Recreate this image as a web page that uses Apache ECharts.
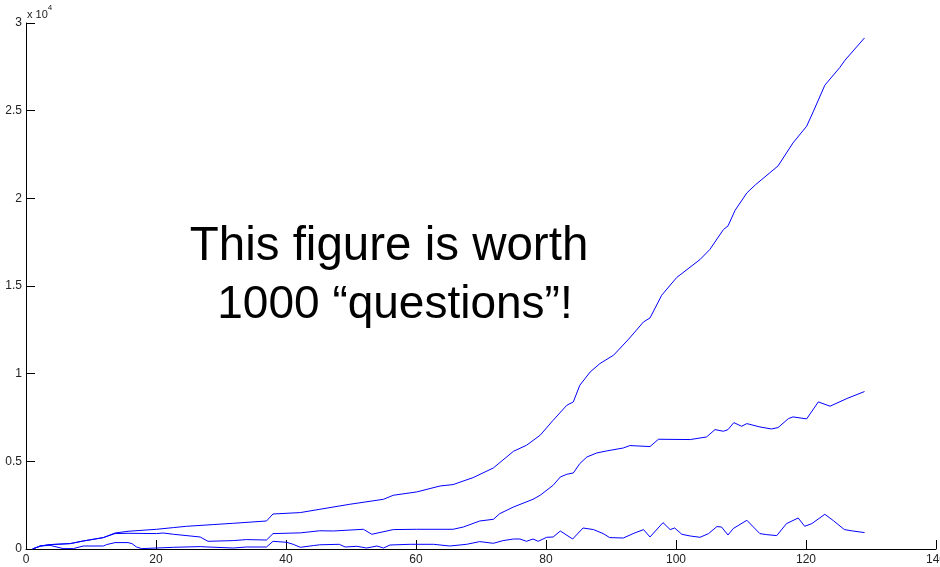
<!DOCTYPE html>
<html>
<head>
<meta charset="utf-8">
<script src="https://cdn.jsdelivr.net/npm/echarts@6/dist/echarts.min.js"></script>
<style>
  html, body { margin: 0; padding: 0; background: #fff; }
  #chart { width: 940px; height: 567px; }
</style>
</head>
<body>
<div id="chart"></div>
<script>
// values, [x, y]
const upperLine = [
  [1, 0], [2.2, 171], [3.7, 251], [6.8, 308], [8.8, 456], [11.9, 650], [13.7, 913], [15.7, 1010],
  [20.1, 1124], [22.7, 1221], [24.7, 1295], [28.8, 1392], [31.9, 1466], [37.0, 1597], [38.0, 1997],
  [42.2, 2077], [45.2, 2265], [49.8, 2550], [55.0, 2835], [56.5, 3064], [60.1, 3254], [63.7, 3594],
  [65.7, 3674], [68.8, 4073], [71.9, 4621], [75.0, 5574], [77.0, 5916], [79.1, 6487], [81.1, 7343],
  [83.2, 8198], [84.2, 8387], [85.2, 9339], [86.8, 10098], [88.3, 10577], [90.4, 11055], [92.7, 11963],
  [95.0, 12950], [96.0, 13178], [97.8, 14473], [100.1, 15483], [103.7, 16510], [105.2, 17080],
  [107.3, 18221], [108.0, 18426], [109.1, 19322], [110.9, 20309], [112.2, 20765], [115.7, 21849],
  [118.0, 23161], [120.1, 24114], [121.1, 24929], [122.9, 26453], [125.2, 27463], [126.0, 27879],
  [129, 29150]
];

const middleLine = [
  [1, 0], [2.2, 171], [3.7, 251], [6.8, 308], [8.8, 456], [11.9, 650], [13.7, 880], [15.7, 896],
  [20.1, 880], [21.1, 913], [22.7, 839], [26.8, 685], [28.0, 439], [31.9, 479], [33.9, 536],
  [37.0, 513], [38.0, 878], [42.2, 920], [45.2, 1040], [47.3, 1027], [51.9, 1124], [53.2, 839],
  [56.5, 1107], [60.1, 1124], [65.7, 1124], [67.3, 1255], [69.8, 1597], [71.9, 1694], [72.9, 2020],
  [75.0, 2396], [78.0, 2835], [79.1, 3064], [81.1, 3634], [82.2, 4108], [83.2, 4262], [84.2, 4336],
  [85.2, 4872], [86.3, 5249], [87.8, 5477], [89.3, 5591], [91.9, 5762], [92.9, 5899], [96.0, 5842],
  [97.3, 6259], [102.2, 6242], [104.7, 6390], [106.0, 6810], [107.3, 6714], [108.0, 6810],
  [108.9, 7209], [110.1, 6999], [110.9, 7152], [112.9, 6960], [114.7, 6846], [115.7, 6925],
  [117.3, 7437], [118.0, 7534], [120.1, 7421], [121.9, 8390], [123.7, 8144], [126.3, 8583], [129, 8980]
];

const lowerLine = [
  [1, 0], [2.2, 171], [3.7, 211], [5.7, 23], [7.3, 23], [8.8, 171], [11.9, 171], [12.4, 251],
  [13.7, 365], [15.7, 365], [16.3, 308], [17.0, 114], [17.8, 23], [20.1, 57], [22.7, 97], [26.8, 137],
  [28.0, 114], [31.9, 57], [33.9, 114], [37.0, 114], [38.0, 439], [40.1, 382], [41.1, 268], [42.2, 97],
  [44.2, 194], [45.2, 240], [48.2, 268], [49.1, 114], [50.9, 154], [52.4, 57], [54.0, 171], [55.0, 57],
  [56.0, 228], [59.1, 268], [62.7, 268], [65.2, 171], [67.8, 268], [69.8, 422], [71.9, 325],
  [73.4, 479], [75.0, 570], [76.0, 570], [77.0, 439], [78.0, 570], [78.8, 439], [80.1, 667],
  [81.1, 684], [82.2, 1027], [84.1, 570], [85.7, 1198], [87.3, 1107], [88.8, 879], [89.8, 650],
  [91.9, 627], [93.4, 878], [95.0, 1107], [96.0, 685], [98.0, 1506], [99.1, 1107], [99.8, 1198],
  [100.9, 838], [102.2, 741], [103.7, 667], [105.0, 878], [106.3, 1278], [107.0, 1255], [108.0, 798],
  [108.8, 1164], [110.9, 1638], [112.9, 878], [113.9, 821], [115.5, 764], [117.0, 1449], [118.8, 1768],
  [119.8, 1295], [120.9, 1449], [122.9, 1980], [124.2, 1620], [125.9, 1107], [127.2, 1027], [129, 936]
];

const titleLines = ['This figure is worth', '1000 \u201cquestions\u201d!'];

const chart = echarts.init(document.getElementById('chart'));

const lineStyle = { color: '#0000ff', width: 1 };
const mkSeries = data => ({
  type: 'line',
  data: data,
  showSymbol: false,
  silent: true,
  lineStyle: lineStyle,
  animation: false
});

const font = 'Liberation Sans, Arial, sans-serif';
const axisFont = { fontFamily: font, fontSize: 12, color: '#222' };

chart.setOption({
  backgroundColor: '#fff',
  animation: false,
  grid: { left: 26, right: 4, top: 23, bottom: 18, outerBoundsMode: 'none' },
  xAxis: {
    type: 'value',
    min: 0,
    max: 140,
    interval: 20,
    splitLine: { show: false },
    axisLine: { lineStyle: { color: '#000', width: 1 } },
    axisTick: { inside: true, length: 9, lineStyle: { color: '#000' } },
    axisLabel: Object.assign({ margin: 5 }, axisFont)
  },
  yAxis: {
    type: 'value',
    min: 0,
    max: 30000,
    interval: 5000,
    splitLine: { show: false },
    axisLine: { show: true, lineStyle: { color: '#000', width: 1 } },
    axisTick: { show: true, inside: true, length: 9, lineStyle: { color: '#000' } },
    axisLabel: Object.assign({ margin: 4, formatter: v => String(v / 10000) }, axisFont)
  },
  graphic: [
    {
      type: 'text',
      left: 27,
      top: 4,
      style: {
        text: '{a|x 10}{b|4}',
        rich: {
          a: { fontFamily: font, fontSize: 11, fill: '#222', verticalAlign: 'bottom', lineHeight: 16 },
          b: { fontFamily: font, fontSize: 8, fill: '#222', verticalAlign: 'top', lineHeight: 16 }
        }
      }
    },
    {
      type: 'text',
      x: 389,
      y: 247,
      style: {
        text: titleLines[0],
        fontFamily: font,
        fontSize: 47.5,
        fill: '#000',
        align: 'center',
        verticalAlign: 'middle'
      }
    },
    {
      type: 'text',
      x: 395,
      y: 305,
      style: {
        text: titleLines[1],
        fontFamily: font,
        fontSize: 46,
        fill: '#000',
        align: 'center',
        verticalAlign: 'middle'
      }
    }
  ],
  series: [mkSeries(upperLine), mkSeries(middleLine), mkSeries(lowerLine)]
});
</script>
</body>
</html>
